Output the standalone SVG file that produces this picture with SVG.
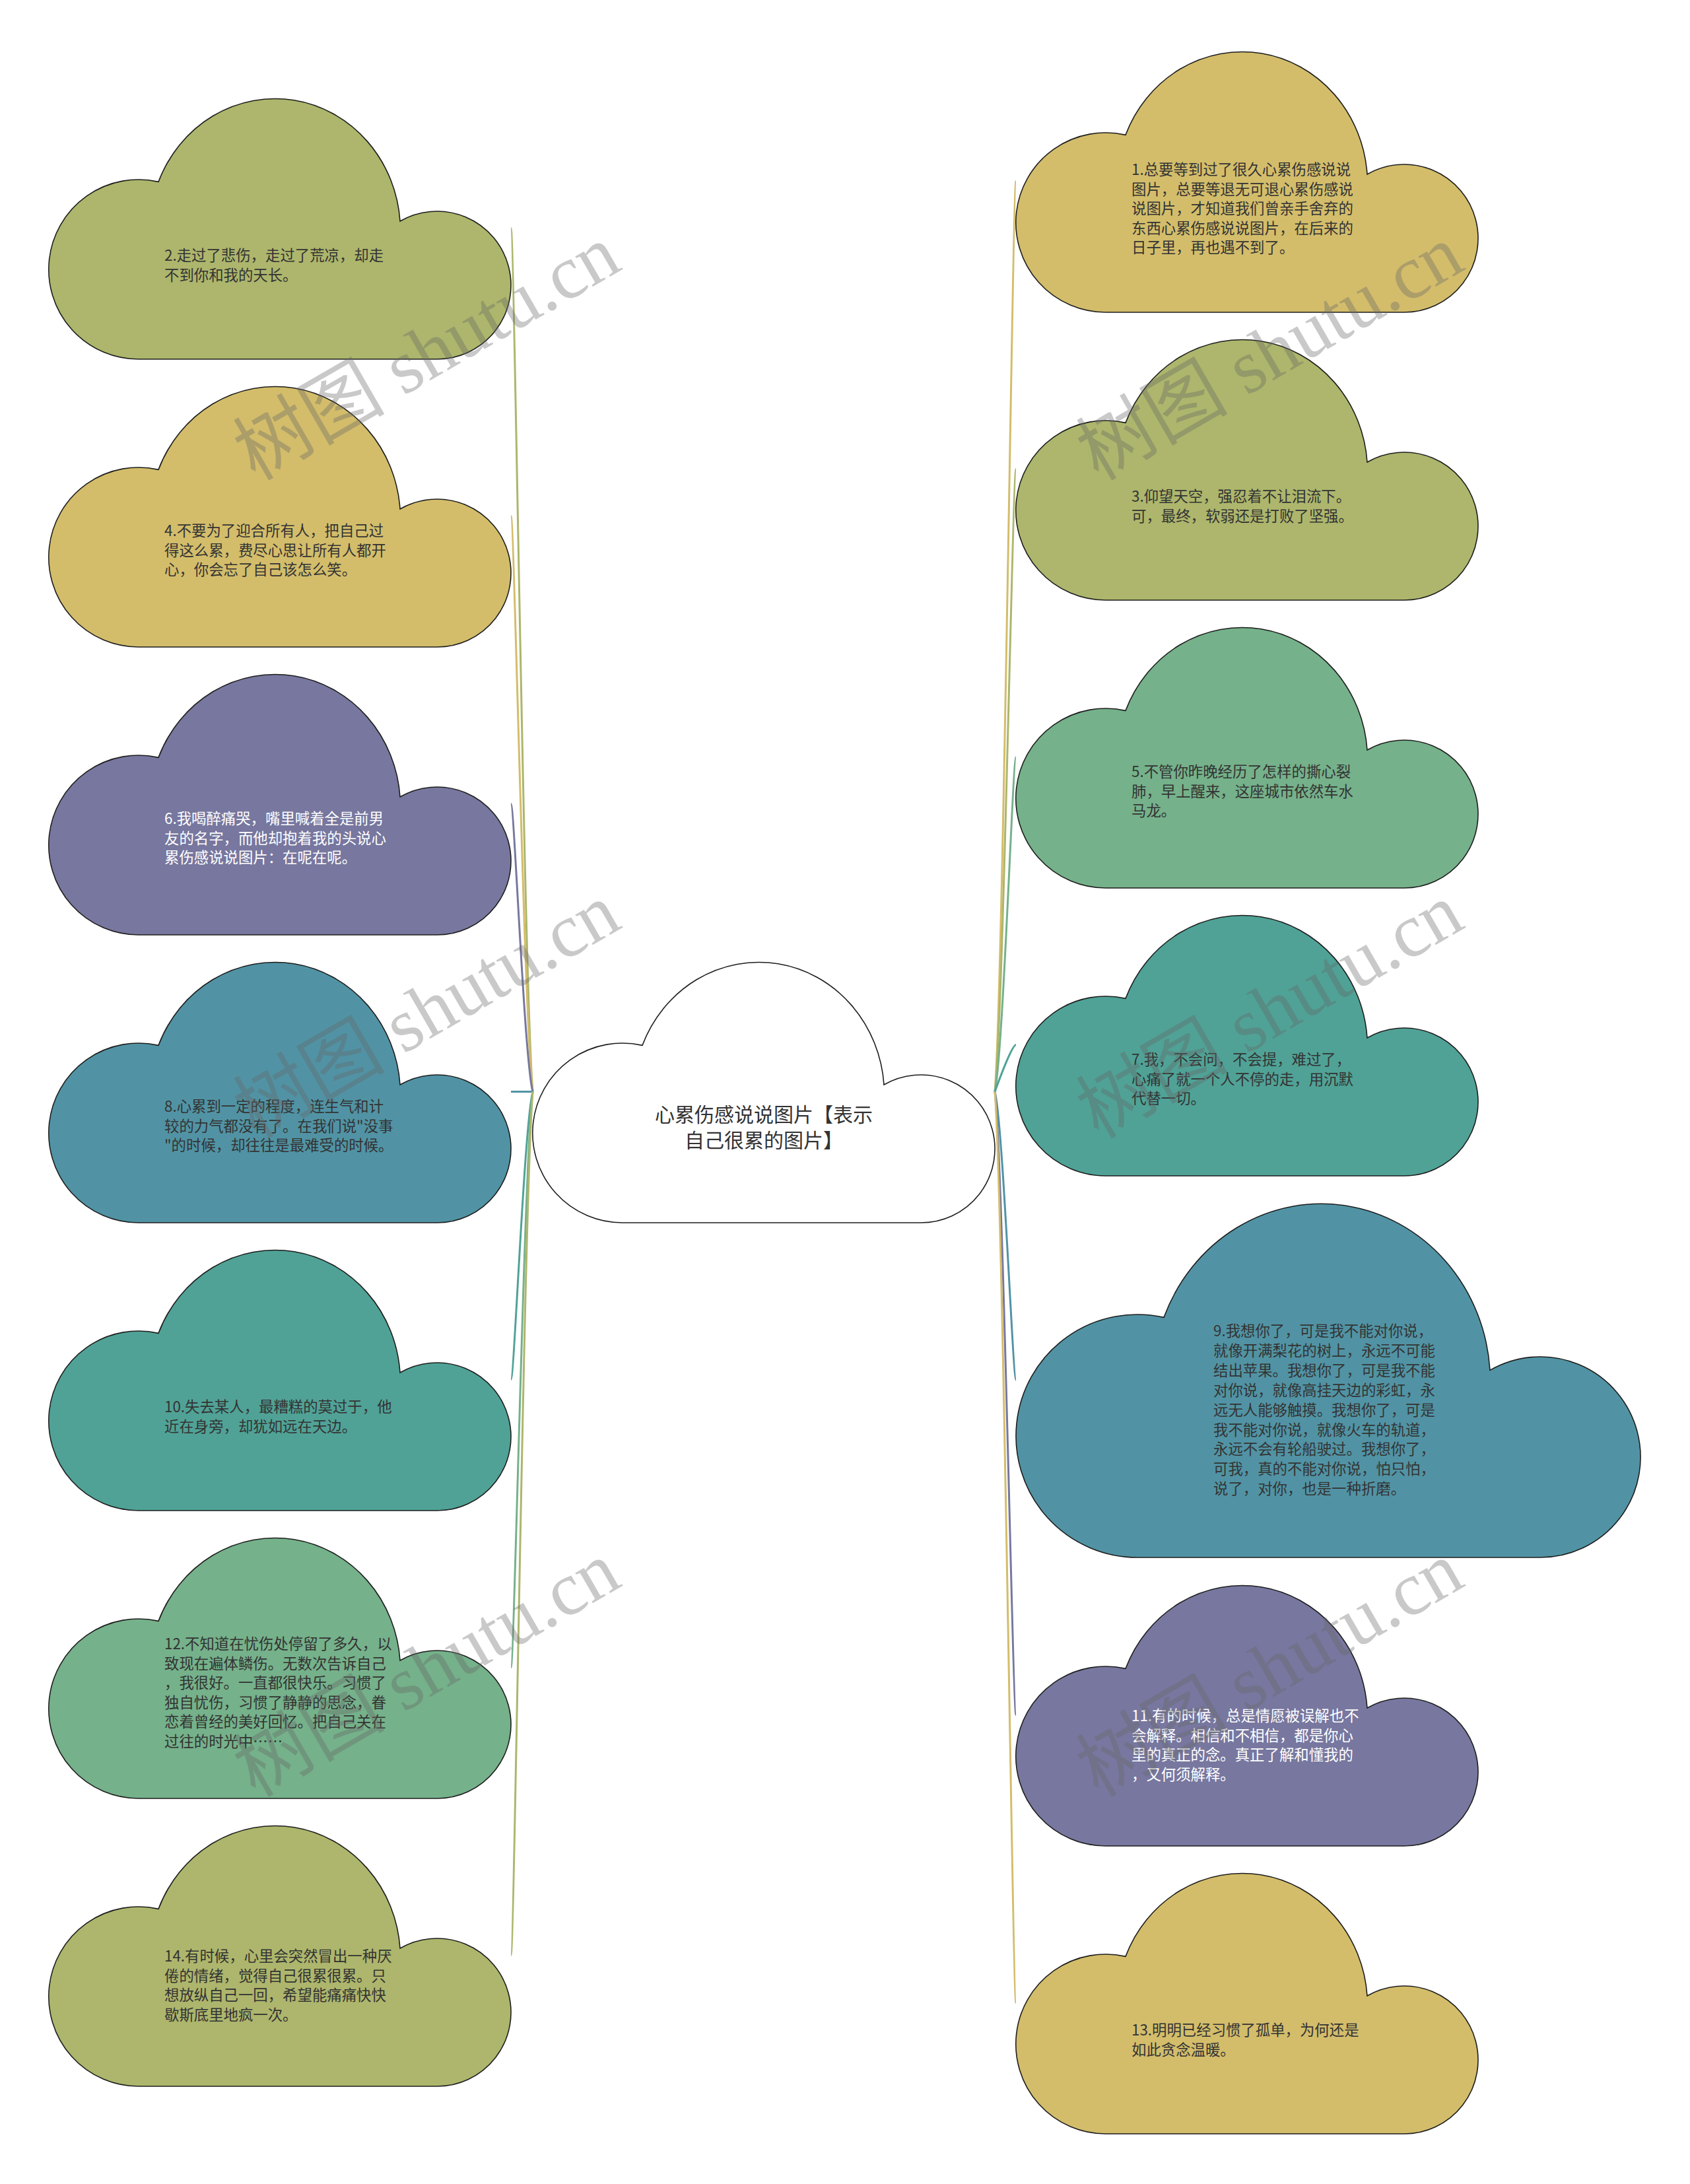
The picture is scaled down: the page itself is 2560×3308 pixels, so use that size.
<svg xmlns="http://www.w3.org/2000/svg" xmlns:xlink="http://www.w3.org/1999/xlink" width="2560" height="3308" viewBox="0 0 2560 3308">
<style>
.cl{stroke:#1e1e1e;stroke-width:1.6}
.olive{fill:#adb66c}.gold{fill:#d3bd6b}.purple{fill:#77779f}.blue{fill:#5193a4}.teal{fill:#50a296}.green{fill:#75b18a}.white{fill:#ffffff}
.t{font-family:"Noto Sans CJK SC","Noto Sans",sans-serif;font-size:22.4px;fill:#333333}
.tw{fill:#ffffff}
.tc{font-family:"Noto Sans CJK SC","Noto Sans",sans-serif;font-size:30px;fill:#333333;text-anchor:middle}
.conn{fill:none;stroke-width:3}
.s-olive{stroke:#adb66c}.s-gold{stroke:#d3bd6b}.s-purple{stroke:#77779f}.s-blue{stroke:#5193a4}.s-teal{stroke:#50a296}.s-green{stroke:#75b18a}
.wm{font-family:"Liberation Serif","Noto Sans CJK SC",serif;font-size:115px;fill:#666666;opacity:0.35;text-anchor:middle}
</style>
<defs>
<path id="cloud" class="cl" d="M 136 397 A 136 136 0 1 1 166 128.4 A 190 200 0 0 1 532 188 A 112 112 0 1 1 588 397 Z"/>
<path id="cloudL" class="cl" d="M 184 538 A 184 184 0 1 1 224 174.4 A 256 270 0 0 1 718 254.4 A 152 152 0 1 1 794 538 Z"/>
</defs>
<rect width="2560" height="3308" fill="#ffffff"/>
<g id="connectors">
<path class="conn s-olive" d="M 807 1653.5 C 793.8 1496.5 779 345.5 774 345.5"/>
<path class="conn s-gold" d="M 807 1653.5 C 793.8 1548.9 779 781.5 774 781.5"/>
<path class="conn s-purple" d="M 807 1653.5 C 793.8 1601.2 779 1217.5 774 1217.5"/>
<path class="conn s-blue" d="M 807 1653.5 L 774 1653.5"/>
<path class="conn s-teal" d="M 807 1653.5 C 793.8 1705.8 779 2089.5 774 2089.5"/>
<path class="conn s-green" d="M 807 1653.5 C 793.8 1758.1 779 2525.5 774 2525.5"/>
<path class="conn s-olive" d="M 807 1653.5 C 793.8 1810.5 779 2961.5 774 2961.5"/>
<path class="conn s-gold" d="M 1507 1653.5 C 1519.8 1488 1534.2 274.5 1539 274.5"/>
<path class="conn s-olive" d="M 1507 1653.5 C 1519.8 1540.3 1534.2 710.5 1539 710.5"/>
<path class="conn s-green" d="M 1507 1653.5 C 1519.8 1592.7 1534.2 1146.5 1539 1146.5"/>
<path class="conn s-teal" d="M 1507 1653.5 C 1519.8 1618 1534.2 1582.5 1539 1582.5"/>
<path class="conn s-blue" d="M 1507 1653.5 C 1519.8 1705.9 1534.2 2090 1539 2090"/>
<path class="conn s-purple" d="M 1507 1653.5 C 1519.8 1766.8 1534.2 2597.5 1539 2597.5"/>
<path class="conn s-gold" d="M 1507 1653.5 C 1519.8 1819.1 1534.2 3033.5 1539 3033.5"/>
</g>
<g id="center">
<use href="#cloud" xlink:href="#cloud" class="white" transform="translate(807,1455)"/>
<text class="tc"><tspan x="1157" y="1699">心累伤感说说图片【表示</tspan><tspan x="1157" y="1738">自己很累的图片】</tspan></text>
</g>
<g id="n2">
<use href="#cloud" xlink:href="#cloud" class="olive" transform="translate(74,147)"/>
<text class="t"><tspan x="249" y="395">2.走过了悲伤，走过了荒凉，却走</tspan><tspan x="249" dy="29.6">不到你和我的天长。</tspan></text>
</g>
<g id="n4">
<use href="#cloud" xlink:href="#cloud" class="gold" transform="translate(74,583)"/>
<text class="t"><tspan x="249" y="812">4.不要为了迎合所有人，把自己过</tspan><tspan x="249" dy="29.6">得这么累，费尽心思让所有人都开</tspan><tspan x="249" dy="29.6">心，你会忘了自己该怎么笑。</tspan></text>
</g>
<g id="n6">
<use href="#cloud" xlink:href="#cloud" class="purple" transform="translate(74,1019)"/>
<text class="t tw"><tspan x="249" y="1248">6.我喝醉痛哭，嘴里喊着全是前男</tspan><tspan x="249" dy="29.6">友的名字，而他却抱着我的头说心</tspan><tspan x="249" dy="29.6">累伤感说说图片：在呢在呢。</tspan></text>
</g>
<g id="n8">
<use href="#cloud" xlink:href="#cloud" class="blue" transform="translate(74,1455)"/>
<text class="t"><tspan x="249" y="1684">8.心累到一定的程度，连生气和计</tspan><tspan x="249" dy="29.6">较的力气都没有了。在我们说"没事</tspan><tspan x="249" dy="29.6">"的时候，却往往是最难受的时候。</tspan></text>
</g>
<g id="n10">
<use href="#cloud" xlink:href="#cloud" class="teal" transform="translate(74,1891)"/>
<text class="t"><tspan x="249" y="2139">10.失去某人，最糟糕的莫过于，他</tspan><tspan x="249" dy="29.6">近在身旁，却犹如远在天边。</tspan></text>
</g>
<g id="n12">
<use href="#cloud" xlink:href="#cloud" class="green" transform="translate(74,2327)"/>
<text class="t"><tspan x="249" y="2498">12.不知道在忧伤处停留了多久，以</tspan><tspan x="249" dy="29.6">致现在遍体鳞伤。无数次告诉自己</tspan><tspan x="249" dy="29.6">，我很好。一直都很快乐。习惯了</tspan><tspan x="249" dy="29.6">独自忧伤，习惯了静静的思念，眷</tspan><tspan x="249" dy="29.6">恋着曾经的美好回忆。把自己关在</tspan><tspan x="249" dy="29.6">过往的时光中……</tspan></text>
</g>
<g id="n14">
<use href="#cloud" xlink:href="#cloud" class="olive" transform="translate(74,2763)"/>
<text class="t"><tspan x="249" y="2971">14.有时候，心里会突然冒出一种厌</tspan><tspan x="249" dy="29.6">倦的情绪，觉得自己很累很累。只</tspan><tspan x="249" dy="29.6">想放纵自己一回，希望能痛痛快快</tspan><tspan x="249" dy="29.6">歇斯底里地疯一次。</tspan></text>
</g>
<g id="n1">
<use href="#cloud" xlink:href="#cloud" class="gold" transform="translate(1539,76)"/>
<text class="t"><tspan x="1714" y="265">1.总要等到过了很久心累伤感说说</tspan><tspan x="1714" dy="29.6">图片，总要等退无可退心累伤感说</tspan><tspan x="1714" dy="29.6">说图片，才知道我们曾亲手舍弃的</tspan><tspan x="1714" dy="29.6">东西心累伤感说说图片，在后来的</tspan><tspan x="1714" dy="29.6">日子里，再也遇不到了。</tspan></text>
</g>
<g id="n3">
<use href="#cloud" xlink:href="#cloud" class="olive" transform="translate(1539,512)"/>
<text class="t"><tspan x="1714" y="760">3.仰望天空，强忍着不让泪流下。</tspan><tspan x="1714" dy="29.6">可，最终，软弱还是打败了坚强。</tspan></text>
</g>
<g id="n5">
<use href="#cloud" xlink:href="#cloud" class="green" transform="translate(1539,948)"/>
<text class="t"><tspan x="1714" y="1177">5.不管你昨晚经历了怎样的撕心裂</tspan><tspan x="1714" dy="29.6">肺，早上醒来，这座城市依然车水</tspan><tspan x="1714" dy="29.6">马龙。</tspan></text>
</g>
<g id="n7">
<use href="#cloud" xlink:href="#cloud" class="teal" transform="translate(1539,1384)"/>
<text class="t"><tspan x="1714" y="1613">7.我，不会问，不会提，难过了，</tspan><tspan x="1714" dy="29.6">心痛了就一个人不停的走，用沉默</tspan><tspan x="1714" dy="29.6">代替一切。</tspan></text>
</g>
<g id="n9">
<use href="#cloudL" xlink:href="#cloudL" class="blue" transform="translate(1539,1821)"/>
<text class="t"><tspan x="1838" y="2024">9.我想你了，可是我不能对你说，</tspan><tspan x="1838" dy="29.9">就像开满梨花的树上，永远不可能</tspan><tspan x="1838" dy="29.9">结出苹果。我想你了，可是我不能</tspan><tspan x="1838" dy="29.9">对你说，就像高挂天边的彩虹，永</tspan><tspan x="1838" dy="29.9">远无人能够触摸。我想你了，可是</tspan><tspan x="1838" dy="29.9">我不能对你说，就像火车的轨道，</tspan><tspan x="1838" dy="29.9">永远不会有轮船驶过。我想你了，</tspan><tspan x="1838" dy="29.9">可我，真的不能对你说，怕只怕，</tspan><tspan x="1838" dy="29.9">说了，对你，也是一种折磨。</tspan></text>
</g>
<g id="n11">
<use href="#cloud" xlink:href="#cloud" class="purple" transform="translate(1539,2399)"/>
<text class="t tw"><tspan x="1714" y="2607">11.有的时候，总是情愿被误解也不</tspan><tspan x="1714" dy="29.6">会解释。相信和不相信，都是你心</tspan><tspan x="1714" dy="29.6">里的真正的念。真正了解和懂我的</tspan><tspan x="1714" dy="29.6">，又何须解释。</tspan></text>
</g>
<g id="n13">
<use href="#cloud" xlink:href="#cloud" class="gold" transform="translate(1539,2835)"/>
<text class="t"><tspan x="1714" y="3083">13.明明已经习惯了孤单，为何还是</tspan><tspan x="1714" dy="29.6">如此贪念温暖。</tspan></text>
</g>
<g id="watermarks">
<text class="wm" transform="translate(666,568) rotate(-30)">树图 shutu.cn</text>
<text class="wm" transform="translate(1943,568) rotate(-30)">树图 shutu.cn</text>
<text class="wm" transform="translate(666,1565) rotate(-30)">树图 shutu.cn</text>
<text class="wm" transform="translate(1943,1565) rotate(-30)">树图 shutu.cn</text>
<text class="wm" transform="translate(666,2562) rotate(-30)">树图 shutu.cn</text>
<text class="wm" transform="translate(1943,2562) rotate(-30)">树图 shutu.cn</text>
</g>
</svg>
